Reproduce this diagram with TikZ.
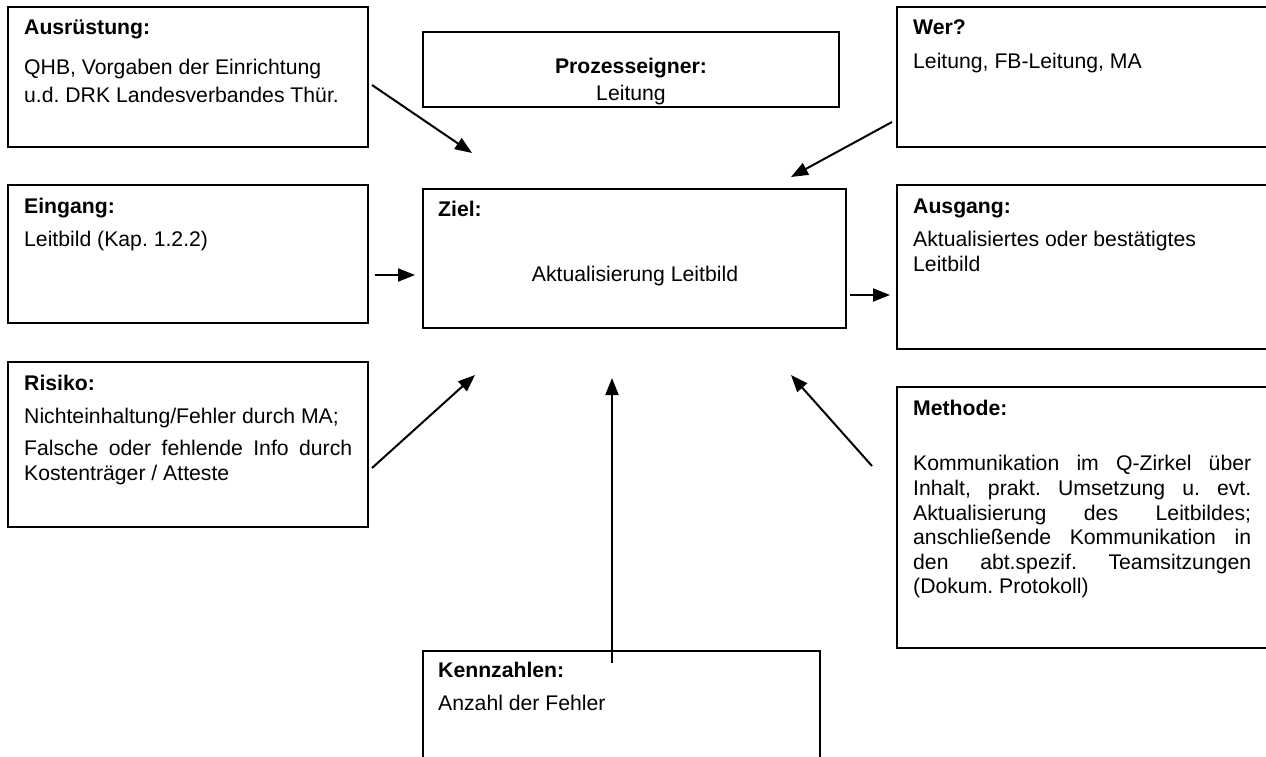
\documentclass[tikz,border=0pt]{standalone}
\usepackage{fontspec}
\setmainfont{Liberation Sans}
\usetikzlibrary{arrows.meta}
\newcommand\dfont{\fontsize{21.2pt}{25pt}\selectfont\frenchspacing}
\begin{document}
\frenchspacing
\begin{tikzpicture}[x=1pt,y=-1pt,
  box/.style={draw, line width=2.8pt, inner sep=0pt, outer sep=0pt, anchor=north west},
  txt/.style={anchor=base west, inner sep=0pt, font=\dfont},
  hd/.style={txt, font=\dfont\bfseries},
  ctr/.style={anchor=base, inner sep=0pt, font=\dfont},
  arr/.style={line width=2pt, -{Triangle[length=17pt,width=13pt]}}]
\clip (0,0) rectangle (1266,756);
\fill[white] (0,0) rectangle (1266,756);
% boxes
\node[box, minimum width=360pt, minimum height=140pt] (ausr) at (8,7) {};
\node[box, minimum width=416pt, minimum height=75pt] (proz) at (423,32) {};
\node[box, minimum width=375pt, minimum height=140pt] (wer) at (897,7) {};
\node[box, minimum width=360pt, minimum height=138pt] (eing) at (8,185) {};
\node[box, minimum width=423pt, minimum height=139pt] (ziel) at (423,189) {};
\node[box, minimum width=375pt, minimum height=164pt] (ausg) at (897,185) {};
\node[box, minimum width=360pt, minimum height=165pt] (risk) at (8,362) {};
\node[box, minimum width=375pt, minimum height=261pt] (meth) at (897,387) {};
\node[box, minimum width=397pt, minimum height=130pt] (kenn) at (423,651) {};
% texts
\node[hd] (ausrh) at (24,34) {Ausrüstung:};
\node[txt] (ausr1) at (24,74) {QHB, Vorgaben der Einrichtung};
\node[txt] (ausr2) at (24,102) {u.d. DRK Landesverbandes Thür.};
\node[ctr, font=\dfont\bfseries] (prozh) at (631,73) {Prozesseigner:};
\node[ctr] (proz1) at (631,100) {Leitung};
\node[hd] (werh) at (913,34) {Wer?};
\node[txt] (wer1) at (913,68) {Leitung, FB-Leitung, MA};
\node[hd] (eingh) at (24,213) {Eingang:};
\node[txt] (eing1) at (24,246) {Leitbild (Kap. 1.2.2)};
\node[hd] (zielh) at (438,216) {Ziel:};
\node[ctr] (ziel1) at (635,281) {Aktualisierung Leitbild};
\node[hd] (ausgh) at (913,213) {Ausgang:};
\node[txt] (ausg1) at (913,246) {Aktualisiertes oder bestätigtes};
\node[txt] (ausg2) at (913,271) {Leitbild};
\node[hd] (riskh) at (24,390) {Risiko:};
\node[txt] (risk1) at (24,423) {Nichteinhaltung/Fehler durch MA;};
\node[txt] (risk2) at (24,455) {\makebox[328pt][s]{Falsche oder fehlende Info durch}};
\node[txt] (risk3) at (24,480) {Kostenträger / Atteste};
\node[hd] (methh) at (913,415) {Methode:};
\node[txt] (meth1) at (913,470) {\makebox[338pt][s]{Kommunikation im Q-Zirkel über}};
\node[txt] (meth2) at (913,495) {\makebox[338pt][s]{Inhalt, prakt. Umsetzung u. evt.}};
\node[txt] (meth3) at (913,520) {\makebox[338pt][s]{Aktualisierung des Leitbildes;}};
\node[txt] (meth4) at (913,544) {\makebox[338pt][s]{anschließende Kommunikation in}};
\node[txt] (meth5) at (913,569) {\makebox[338pt][s]{den abt.spezif. Teamsitzungen}};
\node[txt] (meth6) at (913,593) {(Dokum. Protokoll)};
\node[hd] (kennh) at (438,677) {Kennzahlen:};
\node[txt] (kenn1) at (438,710) {Anzahl der Fehler};
% arrow end points
\coordinate (a1s) at (372,85);  \coordinate (a1e) at (472,153);
\coordinate (a2s) at (892,122); \coordinate (a2e) at (791,177);
\coordinate (a3s) at (375,275); \coordinate (a3e) at (415,275);
\coordinate (a4s) at (850,295); \coordinate (a4e) at (890,295);
\coordinate (a5s) at (372,468); \coordinate (a5e) at (475,375);
\coordinate (a6s) at (612,663); \coordinate (a6e) at (612,378);
\coordinate (a7s) at (872,466); \coordinate (a7e) at (791,375);
\draw[arr] (a1s) -- (a1e);
\draw[arr] (a2s) -- (a2e);
\draw[arr] (a3s) -- (a3e);
\draw[arr] (a4s) -- (a4e);
\draw[arr] (a5s) -- (a5e);
\draw[arr] (a6s) -- (a6e);
\draw[arr] (a7s) -- (a7e);
\end{tikzpicture}
\end{document}
